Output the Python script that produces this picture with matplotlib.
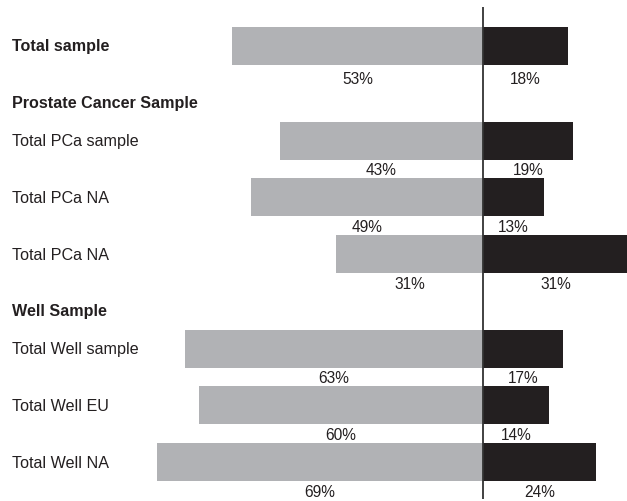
import matplotlib
matplotlib.use("Agg")
import matplotlib.pyplot as plt

# data
row_labels = ["Total sample",
              "Total PCa sample", "Total PCa NA", "Total PCa NA",
              "Total Well sample", "Total Well EU", "Total Well NA"]
row_group = [0, 1, 1, 1, 2, 2, 2]
group_headers = [None, "Prostate Cancer Sample", "Well Sample"]
left_values = [53, 43, 49, 31, 63, 60, 69]
right_values = [18, 19, 13, 31, 17, 14, 24]

GRAY = "#b1b2b5"
DARK = "#231f20"

plt.rcParams['font.family'] = ['Liberation Sans', 'DejaVu Sans']

fig = plt.figure(figsize=(6.27, 5.02), dpi=100)
ax = fig.add_axes([0, 0, 1, 1])
ax.set_xlim(-102.1, 30.45)
ax.set_ylim(502, 0)
ax.axis("off")

# work out vertical positions (pixel units, top down)
row_step = 56.7
header_to_row = 38
y_rows = []
header_pos = {}
y = 47
prev_group = row_group[0]
for i, g in enumerate(row_group):
    if i > 0:
        if g != prev_group:
            header_pos[g] = y + row_step
            y = header_pos[g] + header_to_row
        else:
            y = y + row_step
    y_rows.append(y)
    prev_group = g

bar_h = 38
ax.barh(y_rows, [-v for v in left_values], height=bar_h, color=GRAY, left=0)
ax.barh(y_rows, right_values, height=bar_h, color=DARK, left=0)

label_x = -102.1 + 11.5 / 4.73
for i, (lab, yy) in enumerate(zip(row_labels, y_rows)):
    bold = (row_group[i] == 0)
    ax.text(label_x, yy, lab, ha="left", va="center", fontsize=11.6,
            fontweight="bold" if bold else "normal", color=DARK)
    off = 32 if i == 0 else 29
    ax.text(-left_values[i] / 2, yy + off, f"{left_values[i]}%", ha="center",
            va="center", fontsize=11.2, color=DARK)
    ax.text(right_values[i] / 2, yy + off, f"{right_values[i]}%", ha="center",
            va="center", fontsize=11.2, color=DARK)

for g, yy in header_pos.items():
    ax.text(label_x, yy, group_headers[g], ha="left", va="center", fontsize=11.6,
            fontweight="bold", color=DARK)

ax.vlines(0, 8, 500, color="#333333", linewidth=1.3)

fig.savefig("out.png", dpi=100)
